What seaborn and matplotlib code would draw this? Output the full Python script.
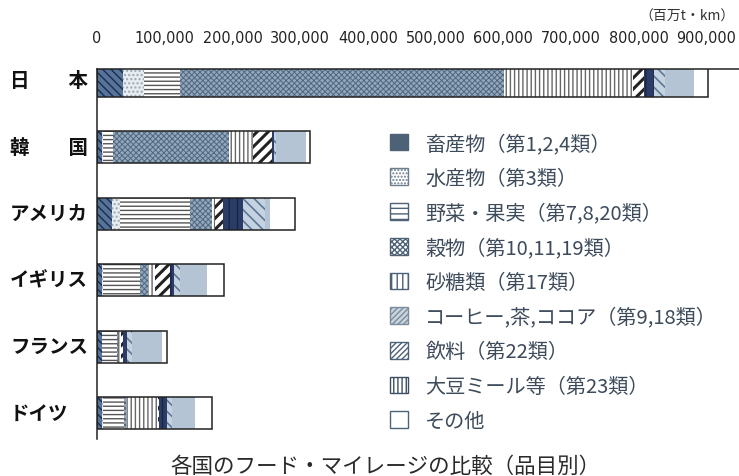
import numpy as np
import pandas as pd
import matplotlib
matplotlib.use("Agg")
import matplotlib.pyplot as plt
import matplotlib.transforms as mtransforms
from matplotlib.patches import Patch
from matplotlib import font_manager
import seaborn as sns

sns.set_style("white")
plt.rcParams['font.family'] = ['Noto Sans CJK JP', 'DejaVu Sans']

# ---------------- data (thousand 百万t・km) ----------------
countries = ["日本", "韓国", "アメリカ", "イギリス", "フランス", "ドイツ"]
country_labels = ["日\u3000\u3000本", "韓\u3000\u3000国", "アメリカ", "イギリス", "フランス", "ドイツ"]

# stacking order in the bars
series = ["畜産物", "水産物", "野菜・果実", "穀物", "砂糖類", "飲料",
          "大豆ミール等", "コーヒー,茶,ココア", "（凡例なし）", "その他"]

v_chikusan = [38, 7, 22, 7, 7, 7]
v_suisan   = [31, 2, 12, 2, 1, 2]
v_yasai    = [53, 14, 104, 54, 21, 31]
v_kokumotsu = [479, 172, 32, 12, 2, 3]
v_sato     = [191, 36, 4, 11, 5, 47]
v_inryo    = [16, 28, 12, 22, 2, 2]
v_daizu    = [15, 3, 30, 6, 7, 12]
v_coffee   = [15, 3, 32, 9, 7, 7]
v_unlabeled = [43, 44, 7, 40, 44, 33]
v_sonota   = [21, 6, 38, 24, 7, 26]

values = [v_chikusan, v_suisan, v_yasai, v_kokumotsu, v_sato, v_inryo,
          v_daizu, v_coffee, v_unlabeled, v_sonota]

xticks = [0, 100000, 200000, 300000, 400000, 500000, 600000, 700000, 800000, 900000]
xtick_labels = ["0", "100,000", "200,000", "300,000", "400,000", "500,000",
                "600,000", "700,000", "800,000", "900,000"]

legend_order = ["畜産物", "水産物", "野菜・果実", "穀物", "砂糖類",
                "コーヒー,茶,ココア", "飲料", "大豆ミール等", "その他"]
legend_labels = ["畜産物（第1,2,4類）", "水産物（第3類）", "野菜・果実（第7,8,20類）",
                 "穀物（第10,11,19類）", "砂糖類（第17類）", "コーヒー,茶,ココア（第9,18類）",
                 "飲料（第22類）", "大豆ミール等（第23類）", "その他"]

# ---------------- styles ----------------
bar_style = {
    "畜産物":        ("#56739a", "\\\\\\\\", "#1c2b4e", 1.0),
    "水産物":        ("#e6ecf0", "....", "#9aa8b4", 1.0),
    "野菜・果実":    ("white", "----", "#555555", 1.0),
    "穀物":          ("#94a8bc", "xxxxxx", "#506780", 0.7),
    "砂糖類":        ("white", "||||", "#666666", 1.0),
    "飲料":          ("white", "///", "#222222", 2.2),
    "大豆ミール等":  ("#2b3d66", "||", "#1a2545", 1.0),
    "コーヒー,茶,ココア": ("#c5d3e0", "\\\\\\", "#5c7896", 1.2),
    "（凡例なし）":  ("#b4c4d4", "", "#b4c4d4", 1.0),
    "その他":        ("white", "", "white", 1.0),
}
legend_style = {
    "畜産物":        ("#4d6177", "", "#4d6177"),
    "水産物":        ("white", ".....", "#6d7e8e"),
    "野菜・果実":    ("white", "---", "#4d6177"),
    "穀物":          ("white", "xxxxxx", "#4d6177"),
    "砂糖類":        ("white", "|||", "#4d6177"),
    "コーヒー,茶,ココア": ("#c9d4de", "//////", "#7d8d9c"),
    "飲料":          ("white", "//////", "#4d6177"),
    "大豆ミール等":  ("white", "||||", "#3d4f63"),
    "その他":        ("white", "", "#4d6177"),
}

# narrow font for tick labels if available
names = {f.name for f in font_manager.fontManager.ttflist}
if "Liberation Sans Narrow" in names:
    tick_font = dict(family=["Liberation Sans Narrow", "DejaVu Sans"], fontsize=14)
else:
    tick_font = dict(family=["DejaVu Sans"], stretch="condensed", fontsize=11.5)

# ---------------- figure ----------------
W, H = 739, 477
fig = plt.figure(figsize=(W / 100, H / 100), dpi=100)
ax = fig.add_axes([97 / W, 1 - 440 / H, 1 - 97 / W, (440 - 70) / H])

vals = np.array(values, dtype=float) * 1000.0   # (series, countries)
cum = np.cumsum(vals, axis=0)
totals = cum[-1]

# draw cumulative layers from the longest to the shortest
for i in range(len(series) - 1, -1, -1):
    face, hatch, hcol, hlw = bar_style[series[i]]
    df = pd.DataFrame({"country": countries, "value": cum[i]})
    sns.barplot(data=df, x="value", y="country", orient="h", color=face,
                width=0.48, saturation=1, ax=ax, errorbar=None)
    cont = ax.containers[-1]
    for p in cont:
        p.set_facecolor(face)
        p.set_hatch(hatch)
        p.set_edgecolor(hcol)
        p.set_linewidth(0)
        if hasattr(p, "set_hatch_linewidth"):
            p.set_hatch_linewidth(hlw)

# outline of whole bar
dft = pd.DataFrame({"country": countries, "value": totals})
sns.barplot(data=dft, x="value", y="country", orient="h", fill=False,
            color="#222222", linewidth=1.1, width=0.48, ax=ax, errorbar=None)

ax.set_xlim(0, 948000)
ax.set_ylim(5.39, -0.18)
ax.set_xlabel("")
ax.set_ylabel("")

# axis decoration
ax.xaxis.tick_top()
ax.set_xticks(xticks)
ax.set_xticklabels(xtick_labels, color="#222222", **tick_font)
ax.tick_params(axis="x", direction="in", length=6, width=1, color="#222222", pad=17)
ax.set_yticks([])
for s in ["right", "bottom"]:
    ax.spines[s].set_visible(False)
ax.spines["top"].set_color("#222222")
ax.spines["left"].set_color("#222222")
ax.spines["top"].set_linewidth(1.1)
ax.spines["left"].set_linewidth(1.1)

# country labels
trans = mtransforms.blended_transform_factory(fig.transFigure, ax.transData)
for i, lab in enumerate(country_labels):
    ax.text(10 / W, i, lab, transform=trans, ha="left", va="center",
            fontsize=14, fontweight="bold", color="#111111")

# unit
fig.text(735 / W, 1 - 17 / H, "（百万t・km）", ha="right", va="center",
         fontsize=10, color="#333333")

# legend
handles = []
for k in legend_order:
    fc, ht, ec = legend_style[k]
    handles.append(Patch(facecolor=fc, hatch=ht, edgecolor=ec, linewidth=1.0))
leg = fig.legend(handles, legend_labels, loc="upper left",
                 bbox_to_anchor=(382 / W, 1 - 126 / H), frameon=False,
                 fontsize=14.5, handlelength=0.9, handleheight=0.9,
                 handletextpad=0.85, labelspacing=0.68, borderaxespad=0)
for t in leg.get_texts():
    t.set_color("#3d4b5a")

# caption
fig.text(385 / W, 1 - 467 / H, "各国のフード・マイレージの比較（品目別）",
         ha="center", va="center", fontsize=15.5, color="#2a2a2a")

fig.savefig("out.png", dpi=100)
